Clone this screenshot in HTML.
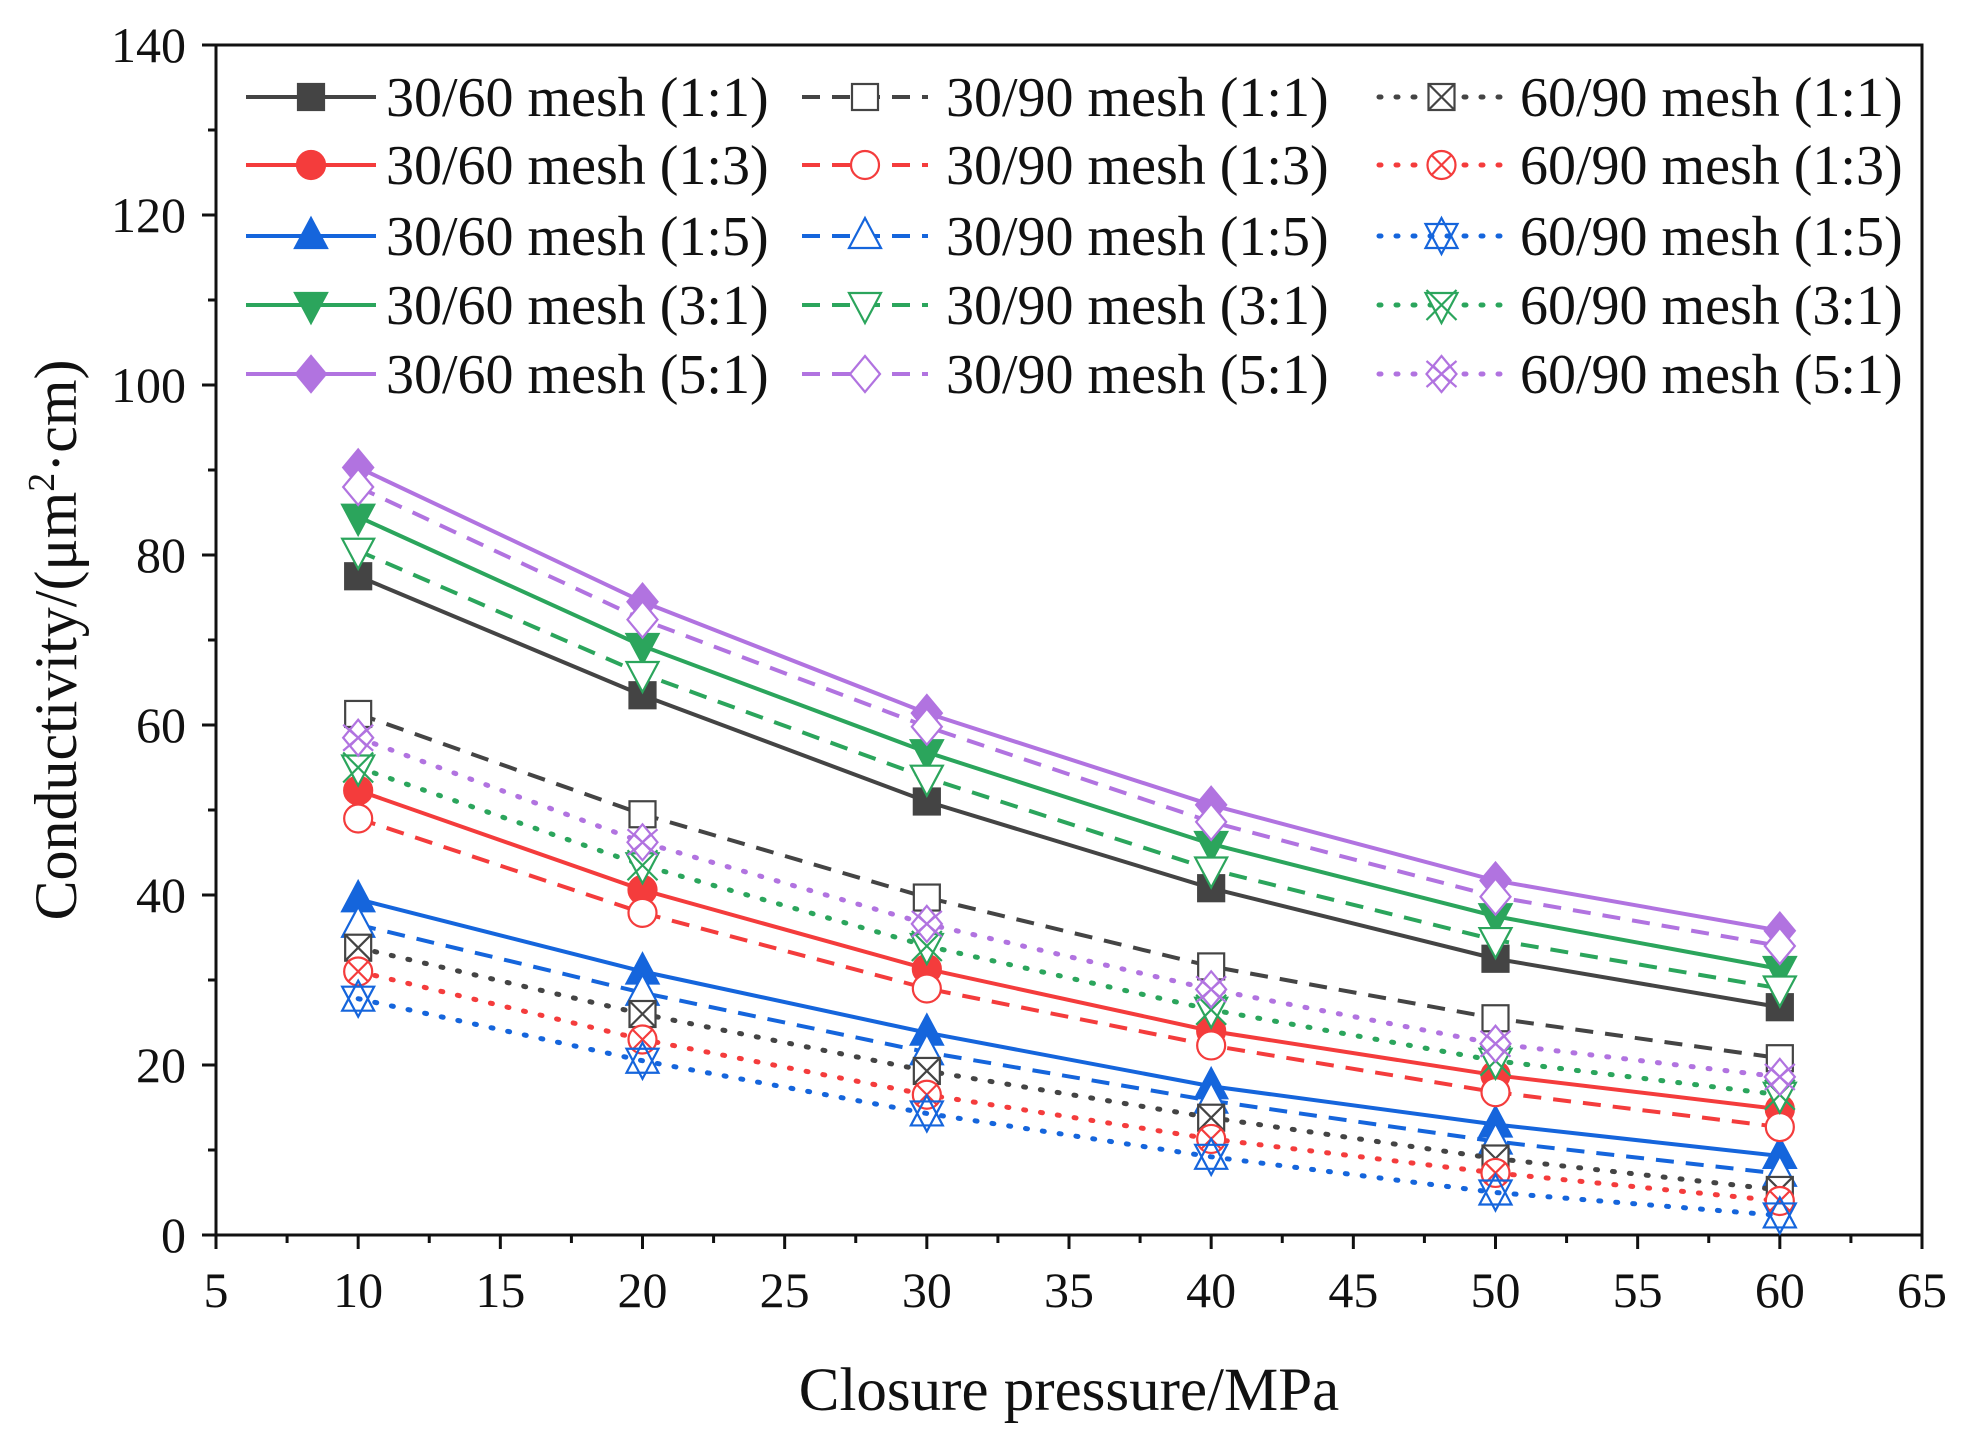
<!DOCTYPE html>
<html><head><meta charset="utf-8"><style>
body{margin:0;background:#fff}
svg text{font-family:"Liberation Serif",serif;fill:#111}
</style></head><body>
<svg id="chart" width="1964" height="1436" xmlns="http://www.w3.org/2000/svg"></svg>
<script>
const pressures=[10,20,30,40,50,60];
const s3060_11=[77.5,63.5,51,40.8,32.5,26.8];
const s3060_13=[52.3,40.6,31.3,24,18.8,14.8];
const s3060_15=[39.5,31,23.8,17.5,13,9.3];
const s3060_31=[84.5,69.3,56.8,46,37.5,31.3];
const s3060_51=[90.3,74.5,61.4,50.6,41.7,35.8];
const s3090_11=[61.3,49.5,39.7,31.6,25.5,20.8];
const s3090_13=[49,37.9,29,22.3,16.8,12.7];
const s3090_15=[36.5,28.5,21.5,15.8,11,7.2];
const s3090_31=[80.5,66,53.8,43,34.7,29];
const s3090_51=[88,72.4,59.8,48.6,39.8,34];
const s6090_11=[33.8,26,19.3,13.8,9,5.3];
const s6090_13=[31,23,16.5,11.3,7.3,4];
const s6090_15=[27.8,20.5,14.3,9.2,5,2.3];
const s6090_31=[55,43.5,34,26.5,20.5,16.5];
const s6090_51=[58.5,46.2,36.6,28.9,22.5,18.6];
const xTicks=[5,10,15,20,25,30,35,40,45,50,55,60,65];
const yTicks=[0,20,40,60,80,100,120,140];

const NS="http://www.w3.org/2000/svg";
const svg=document.getElementById('chart');
const L=216,R=1922,T=45,B=1235;
const xs=v=>L+(v-5)/60*(R-L);
const ys=v=>B-v/140*(B-T);
function el(tag,attrs,parent){const e=document.createElementNS(NS,tag);for(const k in attrs)e.setAttribute(k,attrs[k]);(parent||svg).appendChild(e);return e;}

const C={k:'#444',r:'#f43c3c',b:'#1565dc',g:'#2ba55c',p:'#b173e0'};
const series=[
 {n:'30/60 mesh (1:1)',d:s3060_11,c:C.k,dash:'',m:'sq',f:true},
 {n:'30/60 mesh (1:3)',d:s3060_13,c:C.r,dash:'',m:'ci',f:true},
 {n:'30/60 mesh (1:5)',d:s3060_15,c:C.b,dash:'',m:'tu',f:true},
 {n:'30/60 mesh (3:1)',d:s3060_31,c:C.g,dash:'',m:'td',f:true},
 {n:'30/60 mesh (5:1)',d:s3060_51,c:C.p,dash:'',m:'di',f:true},
 {n:'30/90 mesh (1:1)',d:s3090_11,c:C.k,dash:'18,12',m:'sq',f:false},
 {n:'30/90 mesh (1:3)',d:s3090_13,c:C.r,dash:'18,12',m:'ci',f:false},
 {n:'30/90 mesh (1:5)',d:s3090_15,c:C.b,dash:'18,12',m:'tu',f:false},
 {n:'30/90 mesh (3:1)',d:s3090_31,c:C.g,dash:'18,12',m:'td',f:false},
 {n:'30/90 mesh (5:1)',d:s3090_51,c:C.p,dash:'18,12',m:'di',f:false},
 {n:'60/90 mesh (1:1)',d:s6090_11,c:C.k,dash:'2,15',m:'sqx',f:false},
 {n:'60/90 mesh (1:3)',d:s6090_13,c:C.r,dash:'2,15',m:'cix',f:false},
 {n:'60/90 mesh (1:5)',d:s6090_15,c:C.b,dash:'2,15',m:'star',f:false},
 {n:'60/90 mesh (3:1)',d:s6090_31,c:C.g,dash:'2,15',m:'tdx',f:false},
 {n:'60/90 mesh (5:1)',d:s6090_51,c:C.p,dash:'2,15',m:'dix',f:false},
];

function marker(g,type,x,y,c,fill){
 const r=15,st={stroke:c,'stroke-width':2.2,fill:fill?c:'#fff'};
 const a=o=>Object.assign({},st,o);
 if(type.startsWith('sq')){el('rect',a({x:x-r+2,y:y-r+2,width:2*r-4,height:2*r-4}),g);
   if(type==='sqx'){el('path',a({d:`M${x-r+2},${y-r+2}L${x+r-2},${y+r-2}M${x+r-2},${y-r+2}L${x-r+2},${y+r-2}`}),g);}}
 else if(type.startsWith('ci')){el('circle',a({cx:x,cy:y,r:r-1}),g);
   if(type==='cix'){const q=r*0.7;el('path',a({d:`M${x-q},${y-q}L${x+q},${y+q}M${x+q},${y-q}L${x-q},${y+q}`}),g);}}
 else if(type==='tu'){el('path',a({d:`M${x},${y-r-3}L${x+r+1},${y+r-3}L${x-r-1},${y+r-3}Z`}),g);}
 else if(type.startsWith('td')){el('path',a({d:`M${x},${y+r+3}L${x+r+1},${y-r+3}L${x-r-1},${y-r+3}Z`}),g);
   if(type==='tdx'){el('path',a({d:`M${x-r},${y-r}L${x+r},${y+r}M${x+r},${y-r}L${x-r},${y+r}`}),g);}}
 else if(type.startsWith('di')){el('path',a({d:`M${x},${y-r-3}L${x+r},${y}L${x},${y+r+3}L${x-r},${y}Z`}),g);
   if(type==='dix'){const q=r*0.5;el('path',a({d:`M${x-q},${y-q}L${x+q},${y+q}M${x+q},${y-q}L${x-q},${y+q}`}),g);
   el('path',a({d:`M${x-r},${y-r+2}L${x+r},${y+r-2}M${x+r},${y-r+2}L${x-r},${y+r-2}`}),g);}}
 else if(type==='star'){el('path',a({d:`M${x},${y-r-3}L${x+r+1},${y+r-3}L${x-r-1},${y+r-3}Z`,fill:'none'}),g);
   el('path',a({d:`M${x},${y+r+3}L${x+r+1},${y-r+3}L${x-r-1},${y-r+3}Z`,fill:'none'}),g);}
}

// axes
const ax=el('g',{});


el('rect',{x:L,y:T,width:R-L,height:B-T,fill:'none',stroke:'#111','stroke-width':3},ax);
xTicks.forEach(v=>{const x=xs(v);el('line',{x1:x,y1:B,x2:x,y2:B+14,stroke:'#111','stroke-width':3},ax);
 const t=el('text',{x:x,y:B+72,'font-size':50,'text-anchor':'middle'},ax);t.textContent=v;
 
 
 if(v<65){const xm=xs(v+2.5);el('line',{x1:xm,y1:B,x2:xm,y2:B+8,stroke:'#111','stroke-width':3},ax);}});
yTicks.forEach(v=>{const y=ys(v);el('line',{x1:L,y1:y,x2:L-14,y2:y,stroke:'#111','stroke-width':3},ax);
 const t=el('text',{x:L-30,y:y+17,'font-size':50,'text-anchor':'end'},ax);t.textContent=v;
 
 
 if(v<140){const ym=ys(v+10);el('line',{x1:L,y1:ym,x2:L-8,y2:ym,stroke:'#111','stroke-width':3},ax);}});
const xt=el('text',{x:(L+R)/2,y:1410,'font-size':61,'text-anchor':'middle'});
xt.textContent='Closure pressure/MPa';


const yt=el('text',{x:0,y:0,'font-size':60,'text-anchor':'middle',transform:`translate(76,${(T+B)/2}) rotate(-90)`});
yt.innerHTML='Conductivity/(μm<tspan dy="-22" font-size="38">2</tspan><tspan dy="22">·cm)</tspan>';



// series
series.forEach(s=>{
 const g=el('g',{});
 
 
 const pts=s.d.map((v,i)=>xs(pressures[i])+','+ys(v)).join(' ');
 el('polyline',{points:pts,fill:'none',stroke:s.c,'stroke-width':s.dash.startsWith('2')?5:4,'stroke-dasharray':s.dash,'stroke-linecap':s.dash.startsWith('2')?'round':'butt'},g);
 s.d.forEach((v,i)=>marker(g,s.m,xs(pressures[i]),ys(v),s.c,s.f));
});

// legend
const cols=[[246,376,386],[802,928,946],[1379,1504,1520]];
const rows=[97,165,236,305,374];
series.forEach((s,i)=>{
 const c=cols[Math.floor(i/5)],y=rows[i%5];
 const g=el('g',{});
 
 
 el('line',{x1:c[0],y1:y,x2:c[1],y2:y,stroke:s.c,'stroke-width':s.dash.startsWith('2')?5:4,'stroke-dasharray':s.dash,'stroke-linecap':s.dash.startsWith('2')?'round':'butt'},g);
 marker(g,s.m,(c[0]+c[1])/2,y,s.c,s.f);
 const t=el('text',{x:c[2],y:y+19,'font-size':56},g);t.textContent=s.n;
});
</script>
</body></html>
